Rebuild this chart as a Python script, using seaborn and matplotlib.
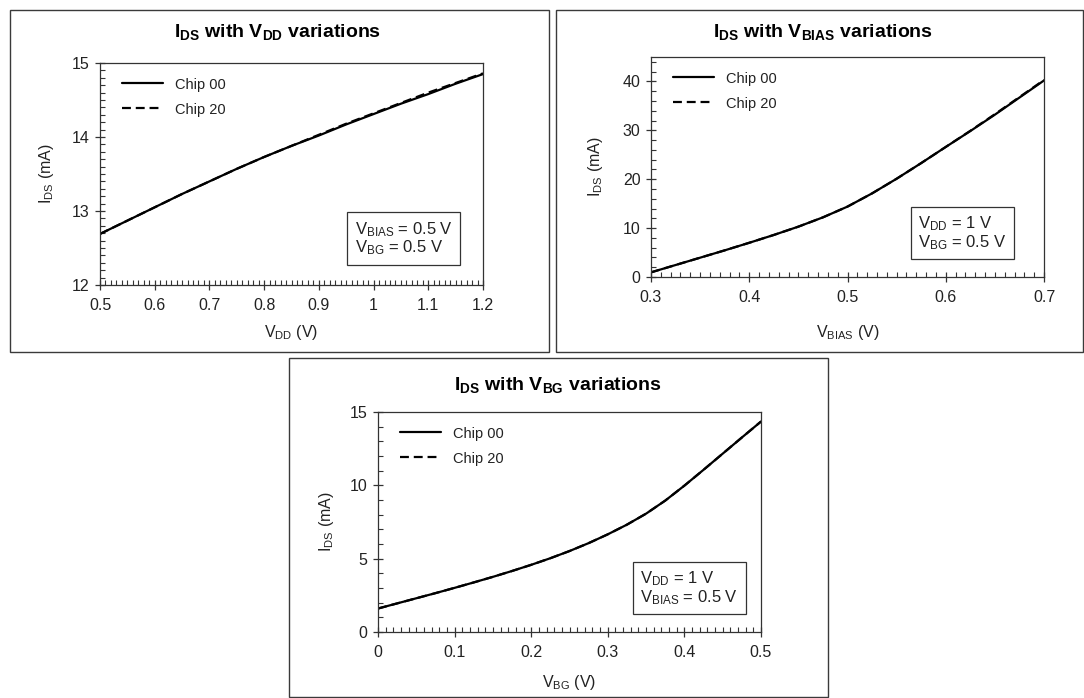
import matplotlib
matplotlib.use("Agg")
import matplotlib.pyplot as plt
import seaborn as sns
import pandas as pd
from matplotlib.patches import Rectangle
from matplotlib.ticker import MultipleLocator, FuncFormatter

# I_DS vs V_DD (V_BIAS = 0.5 V, V_BG = 0.5 V)
vdd = [0.50, 0.55, 0.60, 0.65, 0.70, 0.75, 0.80, 0.85, 0.90, 0.95, 1.00, 1.05, 1.10, 1.15, 1.20]
ids_vdd_chip00 = [12.69, 12.87, 13.05, 13.23, 13.40, 13.57, 13.73, 13.88, 14.02, 14.17, 14.31, 14.45, 14.58, 14.72, 14.85]
ids_vdd_chip20 = [12.69, 12.87, 13.05, 13.23, 13.40, 13.57, 13.73, 13.88, 14.03, 14.18, 14.32, 14.46, 14.60, 14.73, 14.86]

# I_DS vs V_BIAS (V_DD = 1 V, V_BG = 0.5 V)
vbias = [0.300, 0.325, 0.350, 0.375, 0.400, 0.425, 0.450, 0.475, 0.500, 0.525, 0.550, 0.575, 0.600, 0.625, 0.650, 0.675, 0.700]
ids_vbias_chip00 = [0.95, 2.45, 3.95, 5.45, 7.00, 8.60, 10.30, 12.20, 14.40, 17.10, 20.10, 23.30, 26.60, 29.85, 33.20, 36.70, 40.20]
ids_vbias_chip20 = [0.95, 2.45, 3.95, 5.45, 7.00, 8.60, 10.30, 12.20, 14.40, 17.10, 20.10, 23.30, 26.60, 29.90, 33.30, 36.80, 40.30]

# I_DS vs V_BG (V_DD = 1 V, V_BIAS = 0.5 V)
vbg = [0.000, 0.025, 0.050, 0.075, 0.100, 0.125, 0.150, 0.175, 0.200, 0.225, 0.250,
       0.275, 0.300, 0.325, 0.350, 0.375, 0.400, 0.425, 0.450, 0.475, 0.500]
ids_vbg_chip00 = [1.60, 1.95, 2.30, 2.65, 3.01, 3.38, 3.76, 4.16, 4.58, 5.03, 5.52,
                  6.06, 6.66, 7.32, 8.07, 8.96, 9.98, 11.06, 12.16, 13.26, 14.35]
ids_vbg_chip20 = [1.60, 1.95, 2.30, 2.65, 3.01, 3.38, 3.76, 4.16, 4.58, 5.03, 5.52,
                  6.06, 6.66, 7.32, 8.07, 8.96, 9.98, 11.06, 12.16, 13.26, 14.35]

chips = ["Chip 00", "Chip 20"]

sns.set_style("ticks")
plt.rcParams["font.family"] = ["Liberation Sans", "DejaVu Sans"]
plt.rcParams["mathtext.fontset"] = "custom"
plt.rcParams["mathtext.rm"] = "Liberation Sans"
plt.rcParams["mathtext.it"] = "Liberation Sans"
plt.rcParams["mathtext.bf"] = "Liberation Sans:bold"

W, H = 1084, 698
fig = plt.figure(figsize=(W / 100, H / 100), dpi=100)
fig.patch.set_facecolor("white")

TXT = "#222222"


def px_axes(left, top, right, bottom):
    return fig.add_axes([left / W, 1 - bottom / H, (right - left) / W, (bottom - top) / H])


def frame(left, top, right, bottom):
    fig.add_artist(Rectangle((left / W, 1 - bottom / H), (right - left) / W, (bottom - top) / H,
                             transform=fig.transFigure, fill=False, edgecolor="#3a3a3a", lw=1.0))


def long_df(x, y0, y1):
    return pd.DataFrame({
        "x": list(x) * 2,
        "y": list(y0) + list(y1),
        "chip": [chips[0]] * len(x) + [chips[1]] * len(x),
    })


def fmt_plain(v, pos):
    if abs(v) < 1e-9:
        return "0"
    if abs(v - 1) < 1e-9:
        return "1"
    return f"{v:.1f}"


def panel(ax, x, y0, y1, xlim, ylim, xmaj, xmin, ymaj, ymin, xlabel, box_text, box_xy,
          xlabelpad, ylabelpad):
    df = long_df(x, y0, y1)
    sns.lineplot(data=df, x="x", y="y", style="chip", style_order=chips,
                 dashes={"Chip 00": "", "Chip 20": (4, 2.2)}, color="black",
                 linewidth=1.6, ax=ax, legend=True)
    ax.set_xlim(*xlim)
    ax.set_ylim(*ylim)
    ax.xaxis.set_major_locator(MultipleLocator(xmaj))
    ax.xaxis.set_minor_locator(MultipleLocator(xmin))
    ax.yaxis.set_major_locator(MultipleLocator(ymaj))
    ax.yaxis.set_minor_locator(MultipleLocator(ymin))
    ax.xaxis.set_major_formatter(FuncFormatter(fmt_plain))
    ax.tick_params(which="major", direction="inout", length=7, width=0.9, labelsize=11.5,
                   colors="#333333", labelcolor=TXT)
    ax.tick_params(axis="x", which="major", pad=6)
    ax.tick_params(axis="y", which="major", pad=4)
    ax.tick_params(which="minor", direction="in", length=3.5, width=0.8, colors="#333333")
    for s in ax.spines.values():
        s.set_linewidth(0.9)
        s.set_color("#333333")
    ax.set_xlabel(xlabel, fontsize=11.5, color=TXT, labelpad=xlabelpad)
    ax.set_ylabel(r"$\mathregular{I_{DS}}$ (mA)", fontsize=11.5, color=TXT, labelpad=ylabelpad)
    leg = ax.legend(loc="upper left", frameon=False, fontsize=10.5, handlelength=2.8,
                    handletextpad=0.8, labelspacing=0.75, borderaxespad=0.6,
                    bbox_to_anchor=(0.02, 1.0))
    for t in leg.get_texts():
        t.set_color(TXT)
    ax.text(box_xy[0], box_xy[1], box_text, transform=ax.transAxes, fontsize=12, color=TXT,
            ha="left", va="bottom", linespacing=1.0,
            bbox=dict(boxstyle="square,pad=0.45", facecolor="white", edgecolor="#333333", lw=0.9))


# Panel frames
frame(10, 10, 549, 352)
frame(556, 10, 1083, 352)
frame(289, 358, 828, 697)

ax1 = px_axes(100, 63, 483, 285)
panel(ax1, vdd, ids_vdd_chip00, ids_vdd_chip20, (0.5, 1.2), (12, 15), 0.1, 0.01, 1, 0.1,
      r"$\mathregular{V_{DD}}$ (V)",
      "$\\mathregular{V_{BIAS}}$ = 0.5 V\n$\\mathregular{V_{BG}}$ = 0.5 V", (0.665, 0.125),
      xlabelpad=7, ylabelpad=11)

ax2 = px_axes(651, 57, 1044, 277)
panel(ax2, vbias, ids_vbias_chip00, ids_vbias_chip20, (0.3, 0.7), (0, 45), 0.1, 0.01, 10, 2,
      r"$\mathregular{V_{BIAS}}$ (V)",
      "$\\mathregular{V_{DD}}$ = 1 V\n$\\mathregular{V_{BG}}$ = 0.5 V", (0.68, 0.115),
      xlabelpad=13, ylabelpad=13)

ax3 = px_axes(378, 412, 761, 632)
panel(ax3, vbg, ids_vbg_chip00, ids_vbg_chip20, (0.0, 0.5), (0, 15), 0.1, 0.01, 5, 1,
      r"$\mathregular{V_{BG}}$ (V)",
      "$\\mathregular{V_{DD}}$ = 1 V\n$\\mathregular{V_{BIAS}}$ = 0.5 V", (0.685, 0.115),
      xlabelpad=9, ylabelpad=10)

# Panel titles
title_kw = dict(fontsize=14, fontweight="bold", ha="center", va="center", color="black")
fig.text(278 / W, 1 - 32 / H, r"$\mathbf{I_{DS}}$ with $\mathbf{V_{DD}}$ variations", **title_kw)
fig.text(823 / W, 1 - 32 / H, r"$\mathbf{I_{DS}}$ with $\mathbf{V_{BIAS}}$ variations", **title_kw)
fig.text(558 / W, 1 - 385 / H, r"$\mathbf{I_{DS}}$ with $\mathbf{V_{BG}}$ variations", **title_kw)

fig.savefig("out.png", dpi=100, facecolor="white")
